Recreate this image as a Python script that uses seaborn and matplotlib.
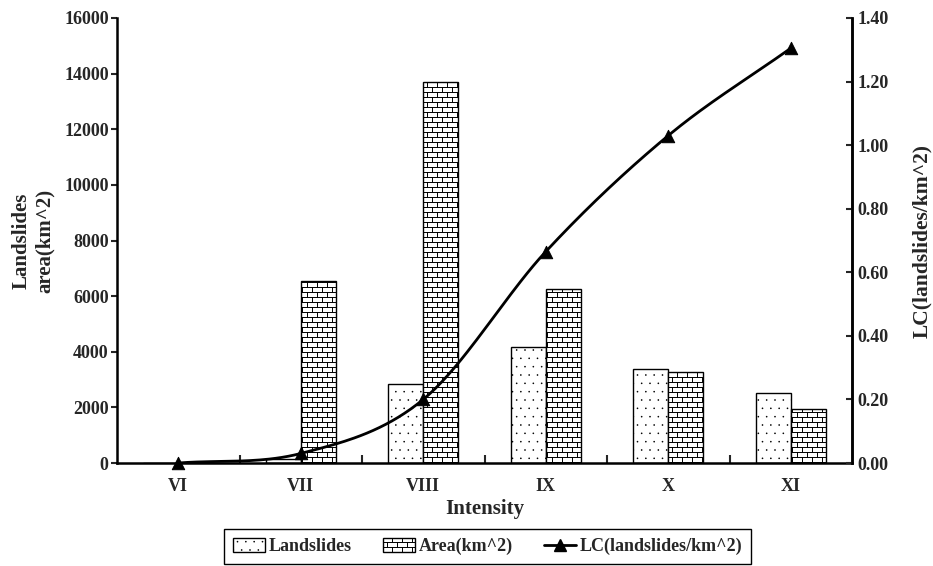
import numpy as np
import pandas as pd
import matplotlib
matplotlib.use("Agg")
import matplotlib.pyplot as plt
import matplotlib.hatch as mhatch
from matplotlib.path import Path
from matplotlib.patches import Patch
from matplotlib.lines import Line2D
from matplotlib.ticker import FormatStrFormatter
import seaborn as sns

# ---------------- data ----------------
intensity = ['VI', 'VII', 'VIII', 'IX', 'X', 'XI']
landslides = [0, 150, 2830, 4180, 3370, 2520]
area_km2 = [0, 6550, 13700, 6250, 3260, 1930]
lc_density = [0.0, 0.03, 0.20, 0.665, 1.03, 1.305]
series_names = ['Landslides', 'Area(km^2)']
lc_name = 'LC(landslides/km^2)'
left_ticks = [0, 2000, 4000, 6000, 8000, 10000, 12000, 14000, 16000]
right_ticks = [0.0, 0.2, 0.4, 0.6, 0.8, 1.0, 1.2, 1.4]


# ---------------- brick hatch (replaces the 'O' pattern) ----------------
class BrickHatch(mhatch.HatchPatternBase):
    def __init__(self, hatch, density):
        self.rows = 20 if hatch.count('O') else 0
        self.cols = 10
        if self.rows:
            self.num_vertices = 2 * self.rows + 2 * (self.rows + 1) * self.cols
        else:
            self.num_vertices = 0

    def set_vertices_and_codes(self, vertices, codes):
        R, C = self.rows, self.cols
        k = 0
        for i in range(R):
            y = (i + 0.5) / R
            vertices[k] = (0.0, y); codes[k] = Path.MOVETO; k += 1
            vertices[k] = (1.0, y); codes[k] = Path.LINETO; k += 1
        for i in range(R + 1):
            y0 = (i - 0.5) / R
            y1 = (i + 0.5) / R
            off = 0.5 if i % 2 else 0.0
            for j in range(C):
                x = (j + off + 0.25) / C
                vertices[k] = (x, y0); codes[k] = Path.MOVETO; k += 1
                vertices[k] = (x, y1); codes[k] = Path.LINETO; k += 1


mhatch._hatch_types[:] = [t for t in mhatch._hatch_types
                          if t is not mhatch.LargeCircles] + [BrickHatch]
mhatch.SmallFilledCircles.size = 0.04

# ---------------- style ----------------
sns.set_theme(style="white")
plt.rcParams['font.family'] = ['Liberation Serif', 'DejaVu Serif']
plt.rcParams['font.weight'] = 'bold'
plt.rcParams['axes.labelweight'] = 'bold'
plt.rcParams['hatch.linewidth'] = 0.7
plt.rcParams['hatch.color'] = 'black'

fig = plt.figure(figsize=(9.33, 5.66), dpi=100)
W, H = 933, 566
ax = fig.add_axes([117 / W, 1 - 463 / H, (852 - 117) / W, (463 - 18) / H])

df = pd.DataFrame({
    'Intensity': intensity * 2,
    'Series': [series_names[0]] * len(intensity) + [series_names[1]] * len(intensity),
    'Value': landslides + area_km2,
})

sns.barplot(data=df, x='Intensity', y='Value', hue='Series', order=intensity,
            hue_order=series_names, palette=['white', 'white'], saturation=1,
            edgecolor='black', linewidth=1.0, width=0.572, legend=False, ax=ax)

for bar in ax.containers[0]:
    bar.set_hatch('..')
for bar in ax.containers[1]:
    bar.set_hatch('O')

ax.set_xlim(-0.5, 5.5)
ax.set_ylim(0, 16000)
ax.set_yticks(left_ticks)
ax.set_xticks(range(len(intensity)))
ax.set_xticklabels(intensity)
ax.set_xticks(np.arange(0.5, len(intensity) - 1, 1.0), minor=True)
ax.tick_params(axis='x', which='major', length=0, pad=11, labelsize=13)
ax.tick_params(axis='x', which='minor', direction='in', length=6, width=1.5, bottom=True)
ax.tick_params(axis='y', which='major', direction='out', length=4, width=1.5, pad=2,
               labelsize=13, left=True)
ax.set_xlabel('Intensity', fontsize=15, labelpad=3)
ax.set_ylabel('Landslides\narea(km^2)', fontsize=15)
ax.yaxis.set_label_coords(-(117 - 55) / 735, 0.5)

for s in ['left', 'bottom', 'right']:
    ax.spines[s].set_linewidth(1.8)
    ax.spines[s].set_color('black')
ax.spines['top'].set_visible(False)

# ---------------- LC curve on secondary axis ----------------
ax2 = ax.twinx()
xs = np.arange(len(intensity), dtype=float)
ys = np.asarray(lc_density, dtype=float)
m = np.gradient(ys, xs)
t = np.linspace(0, 1, 40)
h00 = 2 * t**3 - 3 * t**2 + 1
h10 = t**3 - 2 * t**2 + t
h01 = -2 * t**3 + 3 * t**2
h11 = t**3 - t**2
cx, cy = [], []
for i in range(len(xs) - 1):
    cx.append(xs[i] + t)
    cy.append(h00 * ys[i] + h10 * m[i] + h01 * ys[i + 1] + h11 * m[i + 1])
curve = pd.DataFrame({'x': np.concatenate(cx), 'y': np.concatenate(cy)})
sns.lineplot(data=curve, x='x', y='y', sort=False, estimator=None, color='black',
             linewidth=2.0, ax=ax2)
pts = pd.DataFrame({'x': xs, 'y': ys})
sns.scatterplot(data=pts, x='x', y='y', marker='^', s=80, color='black',
                edgecolor='black', zorder=5, ax=ax2, clip_on=False)

ax2.set_ylim(0, 1.4)
ax2.set_yticks(right_ticks)
ax2.yaxis.set_major_formatter(FormatStrFormatter('%.2f'))
ax2.tick_params(axis='y', direction='in', length=4, width=1.5, pad=4, labelsize=13, right=True)
ax2.set_xlabel('')
ax2.set_ylabel(lc_name, fontsize=15.5)
ax2.yaxis.set_label_coords((912 - 117) / 735, 0.5)
for s in ['top', 'left', 'bottom']:
    ax2.spines[s].set_visible(False)
ax2.spines['right'].set_linewidth(1.8)
ax2.spines['right'].set_color('black')

# ---------------- legend ----------------
handles = [
    Patch(facecolor='white', edgecolor='black', hatch='..', label=series_names[0]),
    Patch(facecolor='white', edgecolor='black', hatch='O', label=series_names[1]),
    Line2D([], [], color='black', lw=2, marker='^', markersize=8, label=lc_name),
]
leg = fig.legend(handles=handles, loc='upper center', ncol=3,
                 bbox_to_anchor=(487.5 / W, 1 - 529 / H),
                 frameon=True, fancybox=False, edgecolor='black', framealpha=1,
                 prop={'size': 13, 'weight': 'bold'}, handlelength=1.8,
                 handleheight=0.8, handletextpad=0.2, columnspacing=1.7,
                 borderpad=0.5, borderaxespad=0)
leg.get_frame().set_linewidth(1.0)

fig.savefig('out.png', dpi=100)
